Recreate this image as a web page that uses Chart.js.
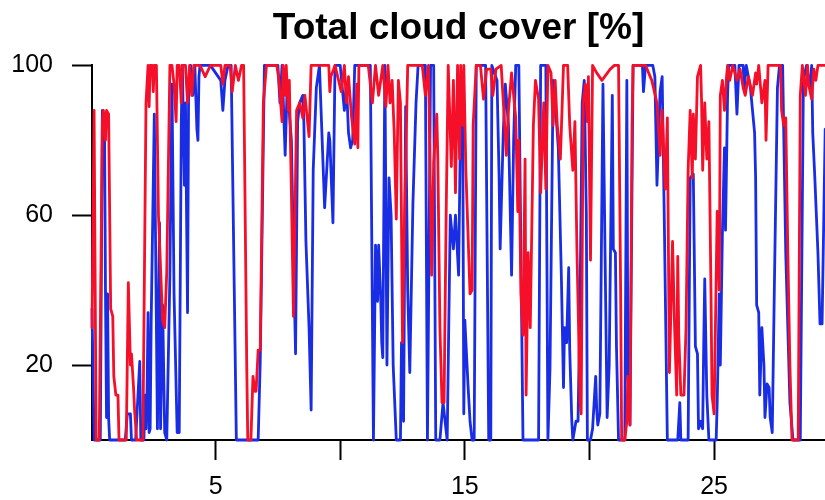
<!DOCTYPE html>
<html>
<head>
<meta charset="utf-8">
<title>Total cloud cover</title>
<script src="https://cdn.jsdelivr.net/npm/chart.js@4.4.1/dist/chart.umd.min.js"></script>
<style>
    html, body { margin: 0; padding: 0; background: #fff; }
</style>
</head>
<body>
<canvas id="cloud-chart" width="825" height="500"></canvas>
<script>
// Hours since start of the month, and total cloud cover (%) for each series
const redHours = [1, 3, 5, 8, 11, 12, 14, 15, 17, 19, 21, 22, 24, 26, 27, 34, 36, 38, 39, 41, 42, 44, 50, 53, 55, 56, 57, 59, 60, 61, 63, 65, 69, 71, 73, 76, 78, 80, 82, 83, 85, 87, 88, 91, 93, 95, 97, 99, 105, 110, 115, 125, 127, 129, 134, 136, 139, 142, 145, 147, 150, 151, 154, 156, 158, 159, 161, 163, 166, 169, 173, 179, 181, 184, 185, 187, 188, 190, 191, 193, 195, 197, 198, 201, 204, 206, 210, 212, 216, 221, 229, 230, 231, 235, 241, 244, 246, 248, 251, 254, 256, 257, 258, 267, 271, 274, 277, 281, 284, 286, 288, 290, 292, 294, 296, 298, 300, 302, 305, 319, 322, 325, 328, 330, 333, 334, 336, 338, 340, 342, 344, 347, 349, 351, 353, 355, 356, 358, 359, 361, 365, 367, 368, 371, 375, 378, 381, 385, 387, 390, 395, 399, 400, 402, 405, 409, 411, 412, 414, 416, 418, 419, 421, 423, 426, 428, 431, 433, 436, 438, 440, 443, 445, 447, 449, 452, 455, 459, 461, 463, 464, 466, 468, 471, 472, 474, 476, 478, 479, 481, 483, 487, 492, 500, 504, 508, 510, 511, 514, 516, 517, 519, 521, 522, 534, 540, 545, 548, 550, 552, 553, 555, 557, 560, 562, 564, 565, 566, 568, 571, 573, 575, 577, 579, 580, 582, 584, 587, 588, 589, 591, 593, 595, 597, 598, 600, 601, 603, 605, 606, 608, 610, 612, 613, 615, 618, 622, 625, 628, 630, 633, 637, 640, 641, 643, 646, 649, 650, 652, 664, 665, 667, 669, 671, 673, 675, 681, 683, 685, 688, 690, 691, 694, 696, 698, 700, 707];
const redCover = [30, 88, 0, 0, 85, 88, 80, 88, 87, 35, 33, 17, 12, 12, 0, 0, 42, 20, 23, 14, 8, 0, 0, 90, 100, 89, 100, 100, 93, 100, 100, 60, 32, 30, 45, 100, 100, 95, 85, 100, 100, 90, 100, 100, 90, 100, 92, 100, 100, 97, 100, 100, 95, 100, 100, 93, 100, 96, 100, 100, 20, 0, 0, 17, 13, 13, 24, 24, 90, 100, 100, 100, 96, 85, 100, 92, 100, 88, 96, 66, 33, 70, 88, 90, 86, 92, 81, 100, 100, 100, 100, 93, 97, 100, 93, 100, 90, 97, 86, 79, 95, 78, 100, 100, 90, 100, 92, 100, 89, 100, 90, 96, 82, 59, 96, 90, 26, 60, 100, 100, 92, 100, 44, 74, 87, 75, 30, 10, 10, 60, 100, 73, 96, 66, 100, 75, 100, 84, 100, 72, 39, 40, 84, 100, 100, 91, 99, 99, 92, 99, 100, 81, 76, 88, 98, 86, 61, 80, 39, 28, 75, 12, 50, 30, 84, 96, 91, 66, 90, 67, 100, 98, 84, 96, 84, 75, 100, 100, 84, 76, 72, 85, 50, 10, 7, 90, 95, 85, 97, 48, 100, 98, 96, 99, 100, 100, 40, 0, 0, 5, 17, 4, 84, 100, 100, 96, 90, 76, 88, 73, 67, 86, 18, 53, 30, 12, 49, 28, 12, 12, 30, 72, 88, 70, 87, 75, 97, 100, 90, 72, 90, 75, 85, 40, 12, 7, 25, 61, 40, 92, 96, 88, 97, 100, 96, 100, 96, 99, 94, 92, 97, 92, 98, 95, 100, 90, 96, 80, 100, 100, 88, 84, 86, 50, 20, 0, 0, 92, 100, 92, 100, 95, 91, 99, 96, 100, 100];

const blueHours = [1, 3, 9, 11, 13, 14, 15, 16, 17, 18, 33, 35, 38, 39, 43, 47, 48, 51, 52, 53, 54, 55, 56, 57, 58, 61, 64, 66, 67, 69, 71, 73, 76, 78, 80, 83, 85, 87, 88, 90, 91, 93, 94, 96, 98, 100, 102, 103, 104, 105, 110, 115, 125, 127, 129, 132, 135, 138, 140, 161, 163, 165, 167, 173, 180, 182, 184, 187, 189, 193, 195, 197, 199, 201, 204, 205, 207, 210, 212, 214, 217, 220, 225, 229, 230, 233, 235, 240, 244, 246, 248, 250, 252, 254, 269, 272, 274, 276, 277, 279, 280, 281, 283, 285, 287, 289, 291, 294, 298, 299, 301, 303, 305, 307, 310, 313, 315, 322, 324, 327, 330, 332, 336, 339, 343, 346, 349, 351, 354, 356, 358, 359, 360, 363, 365, 367, 369, 371, 380, 383, 385, 386, 391, 393, 394, 397, 399, 402, 405, 407, 409, 412, 414, 416, 431, 433, 438, 440, 442, 445, 448, 450, 453, 455, 456, 458, 460, 461, 463, 464, 467, 469, 471, 473, 475, 477, 478, 481, 483, 486, 487, 488, 490, 493, 495, 497, 499, 502, 503, 505, 506, 508, 514, 516, 517, 519, 522, 531, 532, 534, 541, 543, 545, 546, 548, 550, 552, 555, 565, 567, 568, 575, 577, 580, 582, 584, 585, 587, 589, 590, 591, 593, 595, 602, 603, 605, 606, 608, 610, 611, 613, 614, 620, 622, 624, 628, 629, 631, 635, 637, 639, 640, 641, 643, 644, 646, 648, 649, 651, 653, 654, 656, 658, 661, 663, 666, 669, 673, 676, 683, 686, 689, 692, 694, 695, 697, 700, 702, 704, 707];
const blueCover = [35, 0, 0, 88, 86, 39, 6, 39, 6, 0, 0, 7, 7, 0, 0, 21, 0, 0, 12, 3, 13, 34, 2, 3, 32, 87, 3, 58, 3, 36, 2, 0, 44, 95, 39, 2, 2, 85, 100, 68, 90, 34, 92, 100, 92, 100, 83, 80, 97, 100, 100, 100, 96, 88, 96, 100, 100, 40, 0, 0, 21, 60, 100, 100, 100, 90, 100, 76, 95, 80, 50, 23, 85, 90, 92, 85, 53, 30, 8, 72, 94, 100, 62, 82, 80, 58, 100, 100, 88, 95, 82, 78, 80, 100, 100, 0, 52, 37, 52, 38, 26, 22, 100, 20, 70, 60, 20, 0, 0, 26, 5, 89, 40, 18, 63, 90, 100, 100, 0, 100, 100, 0, 0, 10, 0, 60, 51, 60, 44, 88, 85, 7, 32, 15, 5, 0, 0, 100, 100, 0, 0, 100, 96, 70, 51, 82, 95, 84, 44, 80, 100, 100, 50, 0, 0, 100, 100, 0, 19, 96, 86, 78, 43, 14, 30, 26, 46, 24, 5, 0, 5, 5, 39, 90, 96, 60, 0, 0, 3, 17, 8, 4, 7, 95, 50, 6, 20, 92, 51, 50, 25, 0, 0, 96, 18, 4, 100, 100, 93, 100, 100, 97, 68, 76, 93, 97, 60, 0, 0, 10, 0, 0, 70, 71, 25, 23, 3, 5, 3, 25, 43, 12, 0, 0, 10, 39, 20, 55, 78, 56, 92, 100, 100, 87, 100, 100, 94, 100, 94, 88, 82, 70, 36, 34, 12, 30, 20, 6, 15, 14, 6, 2, 40, 94, 100, 100, 50, 10, 0, 0, 96, 100, 94, 100, 82, 70, 50, 31, 31, 83];

// Axis ticks (days of the month)
const xTickDays = [5, 10, 15, 20, 25];
const xTickLabels = ['5', '', '15', '', '25'];
const yTickValues = [20, 60, 100];
const dayFirst = 1 / 24;
const dayLast = 29.45;

const labelFont = { family: "'Liberation Sans', Arial, Helvetica, sans-serif", size: 25 };

function toPoints(hours, cover) {
    return hours.map((h, i) => ({ x: h / 24, y: cover[i] }));
}

const ctx = document.getElementById('cloud-chart').getContext('2d');

new Chart(ctx, {
    type: 'line',
    data: {
        datasets: [{
            label: 'red',
            data: toPoints(redHours, redCover),
            borderColor: 'rgb(245, 15, 40)',
            borderWidth: 2.8,
            pointRadius: 0,
            tension: 0,
            borderJoinStyle: 'round',
            borderCapStyle: 'round',
            clip: 3
        }, {
            label: 'blue',
            data: toPoints(blueHours, blueCover),
            borderColor: 'rgb(25, 45, 228)',
            borderWidth: 2.8,
            pointRadius: 0,
            tension: 0,
            borderJoinStyle: 'round',
            borderCapStyle: 'round',
            clip: 3
        }]
    },
    options: {
        responsive: false,
        animation: false,
        devicePixelRatio: 1,
        layout: { padding: 0 },
        plugins: {
            legend: { display: false },
            tooltip: { enabled: false },
            title: {
                display: true,
                fullSize: false,
                text: 'Total cloud cover [%]',
                color: '#000',
                font: { family: "'Liberation Sans', Arial, Helvetica, sans-serif", size: 37, weight: 'bold' },
                padding: { top: 7, bottom: 14 }
            }
        },
        scales: {
            x: {
                type: 'linear',
                min: dayFirst,
                max: dayLast,
                afterBuildTicks: (scale) => {
                    scale.ticks = xTickDays.map(v => ({ value: v }));
                },
                afterFit: (scale) => { scale.height = 60; },
                ticks: {
                    autoSkip: false,
                    maxRotation: 0,
                    color: '#000',
                    font: labelFont,
                    padding: 12,
                    callback: (value, index) => xTickLabels[index]
                },
                grid: { drawOnChartArea: false, tickLength: 20, tickColor: '#000', tickWidth: 2 },
                border: { color: '#000', width: 2 }
            },
            y: {
                min: 0,
                max: 100,
                afterBuildTicks: (scale) => {
                    scale.ticks = yTickValues.map(v => ({ value: v }));
                },
                afterFit: (scale) => { scale.width = 92; },
                ticks: {
                    color: '#000',
                    font: labelFont,
                    padding: 19
                },
                grid: { drawOnChartArea: false, tickLength: 20, tickColor: '#000', tickWidth: 2 },
                border: { color: '#000', width: 2 }
            }
        }
    }
});
</script>
</body>
</html>
